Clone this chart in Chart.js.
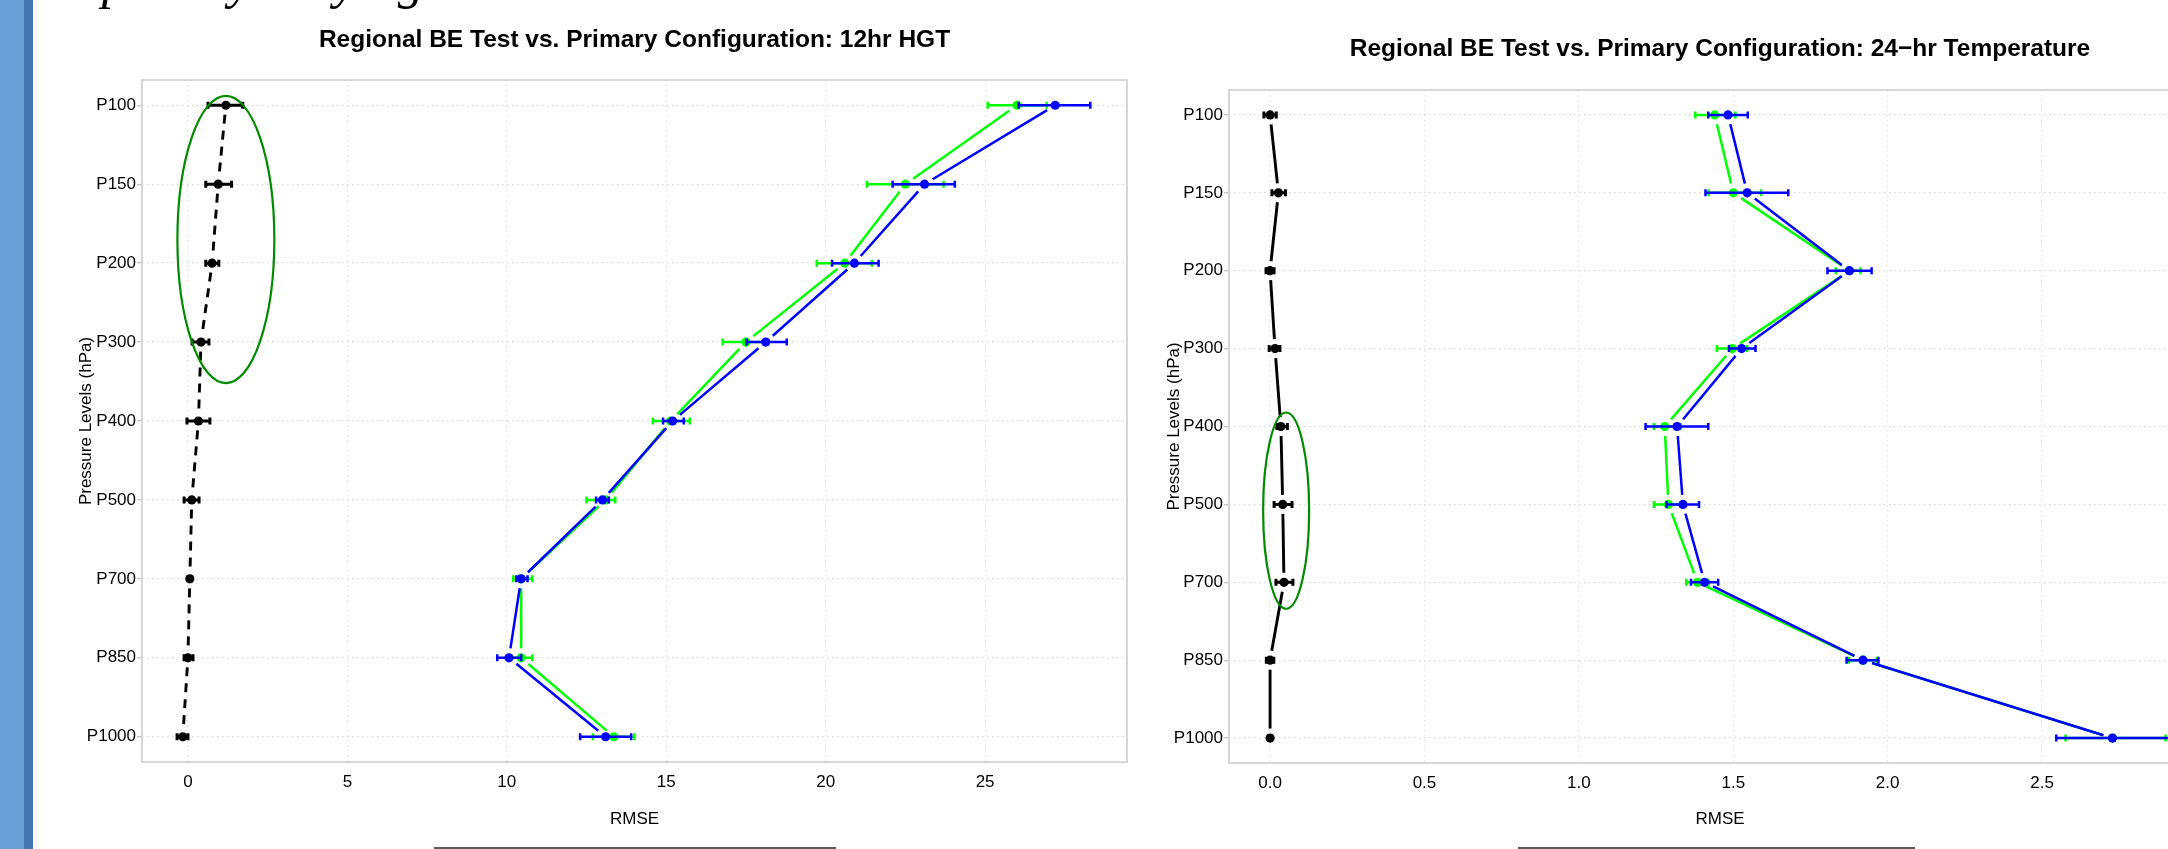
<!DOCTYPE html>
<html>
<head>
<meta charset="utf-8">
<title>Regional BE Test vs. Primary Configuration</title>
<script src="https://cdn.jsdelivr.net/npm/chart.js@4.4.1/dist/chart.umd.min.js"></script>
<style>
  html, body { margin: 0; padding: 0; background: #fff; overflow: hidden; }
  body { position: relative; width: 2168px; height: 849px; }
  .strip { position: absolute; top: 0; height: 849px; z-index: 2; }
  #stripLight { left: 0; width: 24px; background: #6a9ed6; }
  #stripDark { left: 24px; width: 9px; background: #4677b4; }
  #slideTitle { position: absolute; left: 17px; top: -45px; font: italic 52px/52px 'Liberation Serif', 'DejaVu Serif', serif; color: #000; white-space: nowrap; z-index: 1; }
  .chartBox { position: absolute; top: 0; height: 849px; }
  #hgtBox { left: 40px; width: 1100px; }
  #tempBox { left: 1130px; width: 1100px; }
  .rule { position: absolute; top: 847px; height: 2px; background: #5a5a5a; }
</style>
</head>
<body>
<div class="strip" id="stripLight"></div>
<div class="strip" id="stripDark"></div>
<div id="slideTitle">Temporally varying BE</div>
<div class="chartBox" id="hgtBox"><canvas id="hgtChart"></canvas></div>
<div class="chartBox" id="tempBox"><canvas id="tempChart"></canvas></div>
<div class="rule" style="left:434px;width:402px"></div>
<div class="rule" style="left:1518px;width:397px"></div>

<script>
const levels = ['P100', 'P150', 'P200', 'P300', 'P400', 'P500', 'P700', 'P850', 'P1000'];

// 12hr HGT
const hgtTicks = [0, 5, 10, 15, 20, 25];
const hgtDiff      = [1.19, 0.95, 0.76, 0.41, 0.33, 0.12, 0.06, 0.00, -0.16];
const hgtDiffLo    = [0.63, 0.56, 0.56, 0.13, -0.03, -0.12, 0.01, -0.12, -0.34];
const hgtDiffHi    = [1.72, 1.37, 0.97, 0.66, 0.69, 0.35, 0.11, 0.16, 0.00];
const hgtPrimary   = [26.0, 22.5, 20.6, 17.5, 15.14, 13.1, 10.45, 10.45, 13.36];
const hgtPrimaryLo = [25.08, 21.3, 19.72, 16.77, 14.58, 12.5, 10.2, 10.07, 12.7];
const hgtPrimaryHi = [26.93, 23.7, 21.45, 18.2, 15.74, 13.4, 10.8, 10.8, 14.0];
const hgtTest      = [27.2, 23.1, 20.9, 18.12, 15.2, 13.0, 10.45, 10.07, 13.1];
const hgtTestLo    = [26.05, 22.1, 20.2, 17.52, 14.9, 12.8, 10.3, 9.7, 12.3];
const hgtTestHi    = [28.3, 24.05, 21.66, 18.78, 15.55, 13.2, 10.65, 10.45, 13.9];

// 24-hr Temperature
const tempTicks = [0, 0.5, 1, 1.5, 2, 2.5, 3];
const tempDiff      = [0.0, 0.027, 0.0, 0.016, 0.035, 0.041, 0.045, 0.0, 0.0];
const tempDiffLo    = [-0.02, 0.006, -0.013, -0.003, 0.022, 0.013, 0.019, -0.012, -0.005];
const tempDiffHi    = [0.02, 0.05, 0.013, 0.032, 0.056, 0.071, 0.074, 0.012, 0.005];
const tempPrimary   = [1.44, 1.50, 1.876, 1.497, 1.278, 1.29, 1.384, 1.92, 2.728];
const tempPrimaryLo = [1.377, 1.42, 1.832, 1.447, 1.243, 1.243, 1.348, 1.875, 2.576];
const tempPrimaryHi = [1.507, 1.59, 1.912, 1.545, 1.33, 1.34, 1.42, 1.965, 2.90];
const tempTest      = [1.483, 1.545, 1.876, 1.527, 1.318, 1.337, 1.407, 1.92, 2.728];
const tempTestLo    = [1.419, 1.41, 1.805, 1.486, 1.216, 1.284, 1.363, 1.867, 2.546];
const tempTestHi    = [1.547, 1.678, 1.948, 1.572, 1.419, 1.389, 1.451, 1.97, 2.93];

// hand-drawn rings on the slide, in data units
const hgtRing  = { cx: 1.19, cy: 2.70, rx: 1.52, ry: 1.82 };
const tempRing = { cx: 0.052, cy: 6.08, rx: 0.0745, ry: 1.26 };

Chart.defaults.font.family = "'Liberation Sans', Arial, Helvetica, sans-serif";

// lines with gaps at the points (R type="b") plus horizontal error bars
const rmseOverlay = {
  id: 'rmseOverlay',
  beforeDatasetsDraw(chart) {
    const { ctx, chartArea: a } = chart;
    ctx.save();
    ctx.strokeStyle = '#d6d6d6';
    ctx.lineWidth = 2;
    ctx.strokeRect(a.left, a.top, a.right - a.left, a.bottom - a.top);
    ctx.restore();
  },
  beforeDatasetDraw(chart, args) {
    const ds = chart.data.datasets[args.index];
    const pts = args.meta.data;
    const xs = chart.scales.x;
    const { ctx, chartArea: a } = chart;
    const gap = 9.5, cap = 3.5;
    ctx.save();
    ctx.beginPath();
    ctx.rect(a.left, a.top, a.right - a.left, a.bottom - a.top);
    ctx.clip();
    ctx.strokeStyle = ds.backgroundColor;
    ctx.lineWidth = ds.lineWidthB;
    ctx.setLineDash(ds.lineDash);
    for (let i = 1; i < pts.length; i++) {
      const p0 = pts[i - 1], p1 = pts[i];
      const dx = p1.x - p0.x, dy = p1.y - p0.y, len = Math.hypot(dx, dy);
      if (len <= 2 * gap) continue;
      const ux = dx / len, uy = dy / len;
      ctx.beginPath();
      ctx.moveTo(p0.x + ux * gap, p0.y + uy * gap);
      ctx.lineTo(p1.x - ux * gap, p1.y - uy * gap);
      ctx.stroke();
    }
    ctx.setLineDash([]);
    ctx.lineWidth = ds.barWidth;
    pts.forEach((p, i) => {
      const xl = xs.getPixelForValue(ds.errLo[i]);
      const xh = xs.getPixelForValue(ds.errHi[i]);
      ctx.beginPath();
      ctx.moveTo(xl, p.y); ctx.lineTo(xh, p.y);
      ctx.moveTo(xl, p.y - cap); ctx.lineTo(xl, p.y + cap);
      ctx.moveTo(xh, p.y - cap); ctx.lineTo(xh, p.y + cap);
      ctx.stroke();
    });
    ctx.restore();
  },
  afterDatasetsDraw(chart, args, opts) {
    const e = opts.ellipse;
    if (!e) return;
    const xs = chart.scales.x, ys = chart.scales.y;
    const cx = xs.getPixelForValue(e.cx), cy = ys.getPixelForValue(e.cy);
    const rx = Math.abs(xs.getPixelForValue(e.cx + e.rx) - cx);
    const ry = Math.abs(ys.getPixelForValue(e.cy + e.ry) - cy);
    const ctx = chart.ctx;
    ctx.save();
    ctx.strokeStyle = '#008b00';
    ctx.lineWidth = 2.2;
    ctx.beginPath();
    ctx.ellipse(cx, cy, rx, ry, 0, 0, Math.PI * 2);
    ctx.stroke();
    ctx.restore();
  }
};

function series(label, values, lo, hi, color, dash, lineW, barW, order) {
  return {
    label: label,
    data: values.map((v, i) => ({ x: v, y: i + 1 })),
    errLo: lo,
    errHi: hi,
    lineDash: dash,
    lineWidthB: lineW,
    barWidth: barW,
    backgroundColor: color,
    borderColor: color,
    pointBackgroundColor: color,
    pointBorderWidth: 0,
    pointRadius: 4.6,
    pointHoverRadius: 4.6,
    showLine: false,
    order: order
  };
}

function makeChart(id, cfg) {
  return new Chart(document.getElementById(id), {
    type: 'scatter',
    data: {
      datasets: [
        series('Test - Primary', cfg.diff, cfg.diffLo, cfg.diffHi, '#000000', cfg.diffDash, 2.9, 3, 3),
        series('Primary', cfg.primary, cfg.primaryLo, cfg.primaryHi, '#00ff00', [], 2.5, 2.5, 2),
        series('Regional BE Test', cfg.test, cfg.testLo, cfg.testHi, '#0000ff', [], 2.5, 2.5, 1)
      ]
    },
    options: {
      responsive: true,
      maintainAspectRatio: false,
      animation: false,
      events: [],
      layout: { padding: { left: 0, right: cfg.padRight, top: 0, bottom: 0 } },
      plugins: {
        legend: { display: false },
        tooltip: { enabled: false },
        title: {
          display: true, fullSize: false, text: cfg.title, color: '#000',
          font: { size: 24.5, weight: 'bold' }, padding: cfg.titlePad
        },
        rmseOverlay: { ellipse: cfg.ring }
      },
      scales: {
        x: {
          type: 'linear', bounds: 'data', min: cfg.xMin, max: cfg.xMax,
          afterBuildTicks: s => { s.ticks = cfg.ticks.map(v => ({ value: v })); },
          afterFit: s => { s.height = cfg.xAxisHeight; },
          ticks: { padding: 10, color: '#000', font: { size: 17 }, autoSkip: false, maxRotation: 0, callback: cfg.tickFmt },
          grid: { color: '#e3e3e3', lineWidth: 1.2, drawTicks: false },
          border: { display: false, dash: [1.5, 3.5] },
          title: { display: true, text: 'RMSE', color: '#000', font: { size: 17 }, padding: { top: 0, bottom: 19.8 } }
        },
        y: {
          type: 'linear', reverse: true, bounds: 'data', min: 0.68, max: 9.32,
          afterBuildTicks: s => { s.ticks = levels.map((_, i) => ({ value: i + 1 })); },
          afterFit: s => { s.width = cfg.yAxisWidth; },
          ticks: { padding: 1, color: '#000', font: { size: 17 }, autoSkip: false, callback: v => levels[v - 1] },
          grid: { color: '#d8d8d8', lineWidth: 1.3, tickLength: 5, tickColor: '#c8c8c8', tickWidth: 1.5 },
          border: { display: false, dash: [1.5, 3.5] },
          title: { display: true, text: 'Pressure Levels (hPa)', color: '#000', font: { size: 17 }, padding: { top: cfg.yTitlePad, bottom: 0 } }
        }
      }
    },
    plugins: [rmseOverlay]
  });
}

makeChart('hgtChart', {
  title: 'Regional BE Test vs. Primary Configuration: 12hr HGT',
  diff: hgtDiff, diffLo: hgtDiffLo, diffHi: hgtDiffHi, diffDash: [9, 7],
  primary: hgtPrimary, primaryLo: hgtPrimaryLo, primaryHi: hgtPrimaryHi,
  test: hgtTest, testLo: hgtTestLo, testHi: hgtTestHi,
  ticks: hgtTicks, tickFmt: v => String(v),
  xMin: -1.44, xMax: 29.45,
  ring: hgtRing,
  padRight: 13, yAxisWidth: 102, xAxisHeight: 87, yTitlePad: 35.8,
  titlePad: { top: 26, bottom: 24.6 }
});

makeChart('tempChart', {
  title: 'Regional BE Test vs. Primary Configuration: 24\u2212hr Temperature',
  diff: tempDiff, diffLo: tempDiffLo, diffHi: tempDiffHi, diffDash: [],
  primary: tempPrimary, primaryLo: tempPrimaryLo, primaryHi: tempPrimaryHi,
  test: tempTest, testLo: tempTestLo, testHi: tempTestHi,
  ticks: tempTicks, tickFmt: v => v.toFixed(1),
  xMin: -0.133, xMax: 3.047,
  ring: tempRing,
  padRight: 19, yAxisWidth: 99, xAxisHeight: 86, yTitlePad: 33.8,
  titlePad: { top: 35, bottom: 25.6 }
});
</script>
</body>
</html>
